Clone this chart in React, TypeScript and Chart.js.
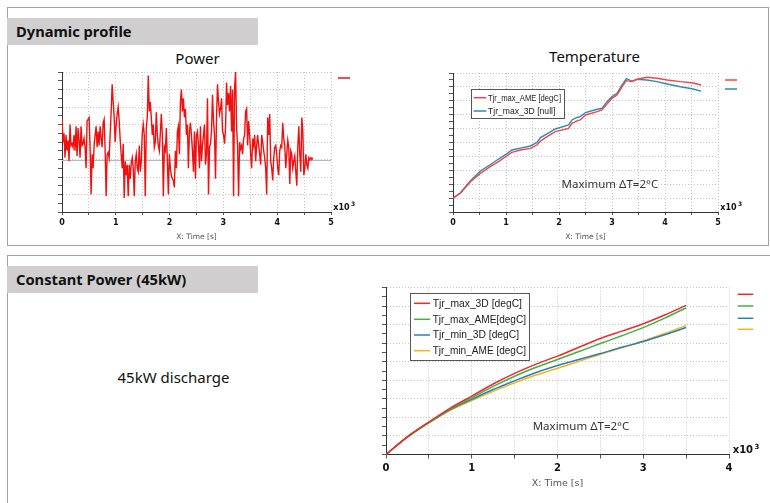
import React, { useEffect, useRef } from "react";
import { Chart, registerables } from "chart.js";

Chart.register(...registerables);

// ---------------- data ----------------
// Dynamic profile – Power (arbitrary units, sampled every powerStepSeconds)
const powerStepSeconds = 18.65;
const powerValues = [
  2.4, 1.0, 1.5, 0.1, 1.4, 0.5, 1.1, -0.1, 2.0, 0.8,
  0.9, 0.7, 1.4, 0.5, 1.9, 0.2, 1.8, 1.1, 0.1, 1.9,
  0.8, 0.9, 1.2, 0.7, -0.5, 2.2, 2.3, 2.4, 0.7, -2.0,
  0.3, -0.5, 0.8, 1.4, 1.9, 0.7, 1.6, 0.8, 1.9, 1.2,
  0.7, 2.1, 2.3, 0.5, -2.1, 0.3, 0.4, 0.1, 1.4, 2.75,
  4.3, 3.3, 2.4, 1.0, 2.0, 2.6, 3.0, 2.2, 1.1, 0.3,
  -0.5, 0.9, -2.2, -0.1, -0.9, -0.3, -2.1, -0.3, -1.1, -0.2,
  0.1, -0.5, -2.1, -0.1, 0.3, -0.5, -0.7, 0.8, -0.7, -0.1,
  1.5, 2.0, 1.4, -2.1, 1.8, 2.4, 4.8, 2.75, 3.3, 2.4,
  1.4, 2.0, 0.7, 1.0, 2.7, 1.4, 0.8, 0.5, 1.5, 2.6,
  1.4, -2.1, 0.7, 0.5, 1.8, -0.1, -2.0, 0.3, -0.5, -0.9,
  -1.1, -1.2, -1.6, 0.5, -0.5, 1.6, 1.9, 0.3, 3.3, 4.0,
  2.75, 3.5, 2.4, 2.9, 1.4, 2.0, -0.5, 1.6, 2.1, 1.4,
  0.5, -0.7, 1.6,
  -1.1, 1.4, 1.6, 0.8, -0.5, 1.9, -0.1, 0.8, 1.4, 2.0,
  -0.3, 0.3, 3.5, -2.0, 0.7, 0.9, 1.6, 3.7, 2.2, 1.4,
  -1.1, 2.4, 4.3, 3.3, 2.6, 2.9, 3.5, 1.6, 1.4, 0.9,
  1.8, 4.4, 3.1, 3.8, 2.75, 4.2, 1.6, 4.0, -2.1, 4.1,
  5.0, 1.8, 0.75, -2.1, 1.0, 0.6, 0.8, 0.3, 1.2, 1.4,
  2.75, 2.9, 0.8, 2.2, 1.4, 0.3, -0.5, 1.2, 0.8, 1.4,
  -0.1, 0.8, 1.4, 0.8, 0.3, -0.3, 1.4, 1.0, 0.5, 0.1,
  -0.5, -2.0, 2.4, 1.4, 2.6, -0.1, -0.5, -1.2, 0.1, 0.7,
  0.8, 0.3, -0.5, -0.9, 0.5, 0.8, 0.7, 2.1, 1.2, 0.8,
  -0.5, 0.3, 1.1, 0.7, -1.4, 0.5, 0.3, -0.5, -0.1, 0.2,
  -0.7, -1.5, 0.7, 1.9, 0.3, -0.7, 2.4, 1.6, -0.9, -0.5,
  0.3, -0.3, -0.5, 0.1, 0.0, 0.1, 0.0, 0.1,
];
const powerTime = powerValues.map((_, i) => i * powerStepSeconds);

// Dynamic profile – Temperature
const tempTime = [
  0, 140, 330, 515, 700, 860, 1020, 1110, 1270, 1460, 1585, 1650, 1775, 1930,
  2180, 2245, 2340, 2400, 2500, 2720, 2810, 2905, 3000, 3095, 3190, 3270,
  3375, 3470, 3660, 3850, 4040, 4290, 4510, 4680,
];
const tjrMaxAME = [
  1.0, 1.35, 2.18, 2.78, 3.26, 3.62, 4.05, 4.29, 4.46, 4.58, 4.82, 5.1, 5.42,
  5.78, 6.02, 6.38, 6.55, 6.62, 6.98, 7.22, 7.34, 7.77, 8.18, 8.42, 9.01, 9.45,
  9.38, 9.55, 9.69, 9.62, 9.5, 9.38, 9.3, 9.14,
];
const tjrMax3D = [
  1.0, 1.38, 2.25, 2.95, 3.4, 3.81, 4.2, 4.46, 4.6, 4.75, 5.01, 5.35, 5.62,
  5.97, 6.26, 6.62, 6.8, 6.86, 7.15, 7.39, 7.46, 7.94, 8.3, 8.54, 9.14, 9.59,
  9.42, 9.54, 9.5, 9.38, 9.21, 9.01, 8.87, 8.7,
];

// Constant power (45kW)
const cpTime = [0, 250, 500, 750, 1000, 1250, 1500, 1750, 2000, 2250, 2500, 2750, 3000, 3250, 3500];
const cpMax3D = [0, 0.95, 1.75, 2.5, 3.15, 3.8, 4.37, 4.87, 5.3, 5.78, 6.25, 6.65, 7.05, 7.52, 8.04];
const cpMaxAME = [0, 0.95, 1.73, 2.45, 3.05, 3.67, 4.22, 4.7, 5.12, 5.55, 5.98, 6.4, 6.84, 7.35, 7.91];
const cpMin3D = [0, 0.95, 1.72, 2.42, 2.97, 3.5, 3.97, 4.42, 4.8, 5.12, 5.44, 5.78, 6.09, 6.45, 6.84];
const cpMinAME = [0, 0.95, 1.7, 2.38, 2.9, 3.4, 3.86, 4.28, 4.65, 5.02, 5.4, 5.75, 6.12, 6.52, 6.96];

const xTitle = "X: Time [s]";
const noteText = "Maximum ΔT=2°C";

// ---------------- chart helper ----------------
const TICK_FONT = "'DejaVu Sans', sans-serif";
const UI_FONT = "'Noto Sans', 'Open Sans', sans-serif";

type Series = { label: string; color: string; x: number[]; y: number[]; width: number; smooth?: boolean };
type Spec = {
  width: number;
  height: number;
  padTop: number;
  padRight: number;
  yAxisWidth: number;
  xAxisHeight: number;
  xMax: number;
  yMin: number;
  yMax: number;
  series: Series[];
  tickFont: number;
  titleFont: number;
  tickPad: number;
  tickLen: number;
  titlePadBottom: number;
  box?: { dx: number; dy: number; w: number; h: number; rows: number[]; l0: number; l1: number; tx: number; font: number };
  side: { dx0: number; dx1: number; dys: number[] };
  note?: { x: number; y: number; font: number };
  expo: { dx: number; dy: number; font: number };
  zeroLine?: boolean;
};

function buildConfig(s: Spec): any {
  const overlay = {
    id: "overlay",
    beforeDatasetsDraw(chart: any) {
      if (!s.zeroLine) return;
      const { ctx, chartArea: a, scales } = chart;
      const y = Math.round(scales.y.getPixelForValue(0)) + 0.5;
      ctx.save();
      ctx.strokeStyle = "#b8b8b8";
      ctx.lineWidth = 1;
      ctx.beginPath();
      ctx.moveTo(a.left, y);
      ctx.lineTo(a.right, y);
      ctx.stroke();
      ctx.restore();
    },
    afterDraw(chart: any) {
      const { ctx, chartArea: a, scales } = chart;
      ctx.save();
      // side legend (short coloured lines)
      s.series.forEach((ser, i) => {
        const y = a.top + s.side.dys[i];
        ctx.strokeStyle = ser.color;
        ctx.lineWidth = 1.5;
        ctx.beginPath();
        ctx.moveTo(a.right + s.side.dx0, y);
        ctx.lineTo(a.right + s.side.dx1, y);
        ctx.stroke();
      });
      // boxed legend
      if (s.box) {
        const b = s.box;
        const bx = a.left + b.dx;
        const by = a.top + b.dy;
        ctx.fillStyle = "#ffffff";
        ctx.fillRect(bx, by, b.w, b.h);
        ctx.strokeStyle = "#555555";
        ctx.lineWidth = 1;
        ctx.strokeRect(Math.round(bx) + 0.5, Math.round(by) + 0.5, b.w, b.h);
        ctx.font = `${b.font}px 'Liberation Sans', Arial, sans-serif`;
        ctx.textBaseline = "middle";
        ctx.textAlign = "left";
        s.series.forEach((ser, i) => {
          const y = by + b.rows[i];
          ctx.strokeStyle = ser.color;
          ctx.lineWidth = 1.5;
          ctx.beginPath();
          ctx.moveTo(bx + b.l0, y);
          ctx.lineTo(bx + b.l1, y);
          ctx.stroke();
          ctx.fillStyle = "#222222";
          ctx.fillText(ser.label, bx + b.tx, y + 0.5, b.w - b.tx - 3);
        });
      }
      // annotation
      if (s.note) {
        const x = scales.x.getPixelForValue(s.note.x);
        const y = scales.y.getPixelForValue(s.note.y);
        ctx.font = `${s.note.font}px ${UI_FONT}`;
        ctx.fillStyle = "#333333";
        ctx.textAlign = "center";
        ctx.textBaseline = "middle";
        ctx.fillText(noteText, x, y);
      }
      // x10^3 exponent label
      const ex = a.right + s.expo.dx;
      const ey = a.bottom - s.expo.dy;
      ctx.fillStyle = "#111111";
      ctx.textAlign = "left";
      ctx.textBaseline = "alphabetic";
      ctx.font = `bold ${s.expo.font}px ${TICK_FONT}`;
      ctx.fillText("x10", ex, ey);
      const w = ctx.measureText("x10").width;
      ctx.font = `bold ${Math.round(s.expo.font * 0.7)}px ${TICK_FONT}`;
      ctx.fillText("3", ex + w + 1.5, ey - s.expo.font * 0.45);
      ctx.restore();
    },
  };

  return {
    type: "line",
    data: {
      datasets: s.series.map((ser) => ({
        label: ser.label,
        data: ser.x.map((x, i) => ({ x, y: ser.y[i] })),
        borderColor: ser.color,
        borderWidth: ser.width,
        pointRadius: 0,
        fill: false,
        tension: ser.smooth ? 0.4 : 0,
        cubicInterpolationMode: ser.smooth ? "monotone" : "default",
      })),
    },
    options: {
      responsive: false,
      animation: false,
      events: [],
      layout: { padding: { left: 0, top: s.padTop, right: s.padRight, bottom: 0 } },
      plugins: { legend: { display: false }, tooltip: { enabled: false }, title: { display: false } },
      scales: {
        x: {
          type: "linear",
          min: 0,
          max: s.xMax,
          afterFit: (sc: any) => {
            sc.height = s.xAxisHeight;
          },
          ticks: {
            stepSize: 500,
            autoSkip: false,
            maxRotation: 0,
            maxTicksLimit: 100,
            padding: s.tickPad,
            color: "#111111",
            font: { family: TICK_FONT, size: s.tickFont, weight: "bold" },
            callback: (v: any) => (Math.abs(v % 1000) < 1e-6 ? String(v / 1000) : ""),
          },
          grid: { color: "#c4c4c4", lineWidth: 1, tickLength: s.tickLen, tickColor: "#555555" },
          border: { color: "#333333", width: 1, dash: [1, 2] },
          title: {
            display: true,
            text: xTitle,
            color: "#555555",
            font: { family: TICK_FONT, size: s.titleFont },
            padding: { top: 0, bottom: s.titlePadBottom },
          },
        },
        y: {
          type: "linear",
          min: s.yMin,
          max: s.yMax,
          afterFit: (sc: any) => {
            sc.width = s.yAxisWidth;
          },
          ticks: { display: false, stepSize: 0.5, maxTicksLimit: 100 },
          grid: {
            color: (c: any) => (c.tick && Math.abs(c.tick.value % 1) < 1e-6 ? "#c4c4c4" : "rgba(0,0,0,0)"),
            lineWidth: 1,
            tickLength: 4,
            tickColor: "#555555",
          },
          border: { color: "#333333", width: 1, dash: [1, 2] },
        },
      },
    },
    plugins: [overlay],
  };
}

function ChartBox({ spec, left, top }: { spec: Spec; left: number; top: number }) {
  const ref = useRef<HTMLCanvasElement>(null);
  useEffect(() => {
    const chart = new Chart(ref.current as HTMLCanvasElement, buildConfig(spec));
    return () => chart.destroy();
  }, []);
  return (
    <canvas
      ref={ref}
      width={spec.width}
      height={spec.height}
      style={{ position: "absolute", left, top, width: spec.width, height: spec.height }}
    />
  );
}

// ---------------- specs ----------------
const powerSpec: Spec = {
  width: 330,
  height: 180,
  padTop: 6,
  padRight: 29,
  yAxisWidth: 32,
  xAxisHeight: 34,
  xMax: 5000,
  yMin: -3,
  yMax: 5,
  series: [{ label: "Power", color: "#f01010", x: powerTime, y: powerValues, width: 1.4 }],
  tickFont: 8,
  titleFont: 7.5,
  tickPad: 3,
  tickLen: 3,
  titlePadBottom: 4.5,
  side: { dx0: 7, dx1: 19, dys: [6] },
  expo: { dx: 2.3, dy: 2, font: 8 },
  zeroLine: true,
};

const tempSpec: Spec = {
  width: 350,
  height: 180,
  padTop: 7,
  padRight: 42,
  yAxisWidth: 43,
  xAxisHeight: 34,
  xMax: 5000,
  yMin: 0,
  yMax: 10,
  series: [
    { label: "Tjr_max_AME [degC]", color: "#f04646", x: tempTime, y: tjrMaxAME, width: 1.4 },
    { label: "Tjr_max_3D [null]", color: "#2f8ab5", x: tempTime, y: tjrMax3D, width: 1.4 },
  ],
  tickFont: 8,
  titleFont: 7.5,
  tickPad: 3,
  tickLen: 3,
  titlePadBottom: 4.5,
  box: { dx: 18, dy: 16, w: 93, h: 29, rows: [8.7, 22], l0: 2.6, l1: 15.3, tx: 17, font: 8.6 },
  side: { dx0: 7, dx1: 19, dys: [7, 16] },
  note: { x: 2960, y: 1.95, font: 11.5 },
  expo: { dx: 2.3, dy: 2, font: 8 },
};

const cpSpec: Spec = {
  width: 410,
  height: 223,
  padTop: 7.5,
  padRight: 31,
  yAxisWidth: 36,
  xAxisHeight: 48.5,
  xMax: 4000,
  yMin: 0,
  yMax: 9,
  series: [
    { label: "Tjr_max_3D [degC]", color: "#ee2a2a", x: cpTime, y: cpMax3D, width: 1.5, smooth: true },
    { label: "Tjr_max_AME[degC]", color: "#46b046", x: cpTime, y: cpMaxAME, width: 1.5, smooth: true },
    { label: "Tjr_min_3D [degC]", color: "#2b7fb5", x: cpTime, y: cpMin3D, width: 1.5, smooth: true },
    { label: "Tjr_min_AME [degC]", color: "#f8b21a", x: cpTime, y: cpMinAME, width: 1.5, smooth: true },
  ],
  tickFont: 10,
  titleFont: 9.5,
  tickPad: 4,
  tickLen: 4,
  titlePadBottom: 14,
  box: { dx: 24, dy: 5.2, w: 119, h: 67, rows: [10.6, 26.6, 42.3, 58], l0: 4, l1: 20, tx: 22.7, font: 10.3 },
  side: { dx0: 8.7, dx1: 24.3, dys: [6.8, 18.5, 30.8, 41.8] },
  note: { x: 2274, y: 1.48, font: 11.5 },
  expo: { dx: 3.7, dy: 1.5, font: 10 },
};

// ---------------- page ----------------
const headerStyle: React.CSSProperties = {
  position: "absolute",
  left: 7,
  width: 251,
  height: 27,
  background: "#d0cece",
  fontFamily: UI_FONT,
  fontWeight: 700,
  fontSize: 14.7,
  lineHeight: "27px",
  paddingLeft: 9,
  boxSizing: "border-box",
  color: "#111",
  whiteSpace: "nowrap",
};

const centerText = (x: number, y: number, size: number): React.CSSProperties => ({
  position: "absolute",
  left: x,
  top: y,
  transform: "translate(-50%, -50%)",
  fontFamily: UI_FONT,
  fontSize: size,
  lineHeight: 1,
  color: "#111",
  whiteSpace: "nowrap",
});

export default function App() {
  return (
    <div
      style={{
        position: "fixed",
        left: 0,
        top: 0,
        width: 770,
        height: 503,
        background: "#ffffff",
        overflow: "hidden",
      }}
    >
      <div
        style={{
          position: "absolute",
          left: 7,
          top: 7,
          width: 762,
          height: 239,
          border: "1px solid #a3a3a3",
          boxSizing: "border-box",
        }}
      />
      <div
        style={{
          position: "absolute",
          left: 7,
          top: 255,
          width: 790,
          height: 300,
          border: "1px solid #a3a3a3",
          boxSizing: "border-box",
        }}
      />
      <div style={{ ...headerStyle, top: 18 }}>Dynamic profile</div>
      <div style={{ ...headerStyle, top: 266 }}>Constant Power (45kW)</div>

      <div style={centerText(197.5, 57.5, 15)}>Power</div>
      <div style={centerText(594.5, 56, 15)}>Temperature</div>
      <div style={centerText(173.5, 377, 15)}>45kW discharge</div>

      <ChartBox spec={powerSpec} left={30} top={66} />
      <ChartBox spec={tempSpec} left={410} top={66} />
      <ChartBox spec={cpSpec} left={350} top={280} />
    </div>
  );
}
